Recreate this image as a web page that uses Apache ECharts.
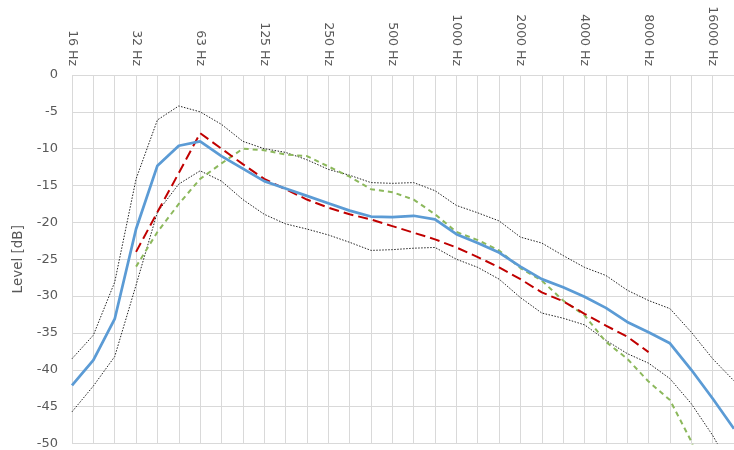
<!DOCTYPE html>
<html>
<head>
<meta charset="utf-8">
<script src="https://cdn.jsdelivr.net/npm/echarts@6/dist/echarts.min.js"></script>
<style>
html,body{margin:0;padding:0;background:#fff;}
#chart{width:734px;height:450px;}
</style>
</head>
<body>
<div id="chart"></div>
<script>
const categories = ['16 Hz','20 Hz','25 Hz','32 Hz','40 Hz','50 Hz','63 Hz','80 Hz','100 Hz','125 Hz','160 Hz','200 Hz','250 Hz','315 Hz','400 Hz','500 Hz','630 Hz','800 Hz','1000 Hz','1250 Hz','1600 Hz','2000 Hz','2500 Hz','3150 Hz','4000 Hz','5000 Hz','6300 Hz','8000 Hz','10000 Hz','12500 Hz','16000 Hz','20000 Hz'];

const meanLevel = [-42.1,-38.7,-33.1,-20.9,-12.3,-9.6,-9.0,-11.0,-12.7,-14.4,-15.4,-16.4,-17.4,-18.4,-19.2,-19.3,-19.1,-19.6,-21.6,-22.8,-24.1,-26.0,-27.7,-28.8,-30.1,-31.6,-33.5,-34.9,-36.4,-40.0,-43.9,-48.0];

const upperBound = [-38.5,-35.3,-28.1,-14.1,-6.1,-4.2,-5.0,-6.7,-9.0,-10.0,-10.5,-11.5,-12.8,-13.6,-14.6,-14.7,-14.6,-15.7,-17.7,-18.7,-19.8,-22.0,-22.8,-24.5,-26.1,-27.2,-29.2,-30.6,-31.7,-34.9,-38.5,-41.5];

const lowerBound = [-45.7,-42.2,-38.2,-28.5,-18.6,-14.8,-13.0,-14.4,-16.9,-18.9,-20.2,-20.9,-21.7,-22.7,-23.8,-23.7,-23.5,-23.4,-25.0,-26.1,-27.7,-30.2,-32.3,-33.0,-33.9,-36.0,-37.8,-39.1,-41.2,-44.6,-48.9,-54.0];

const redTarget = [null,null,null,-24.0,-18.6,-13.3,-7.9,-10.0,-12.1,-14.1,-15.5,-16.9,-18.0,-18.9,-19.6,-20.5,-21.4,-22.3,-23.4,-24.7,-26.1,-27.7,-29.5,-30.7,-32.4,-34.0,-35.5,-37.6,null,null,null,null];

const greenCurve = [null,null,null,-26.0,-21.3,-17.5,-14.1,-12.0,-10.0,-10.2,-10.8,-11.0,-12.4,-13.8,-15.5,-15.9,-16.9,-18.9,-21.3,-22.4,-23.8,-26.2,-27.9,-30.6,-32.6,-36.2,-38.5,-41.6,-44.1,-49.7,-58.0,null];

const yTicks = {min:-50, max:0, step:5};

const chart = echarts.init(document.getElementById('chart'), null, {renderer:'canvas'});
const labelColor = '#595959';
const gridColor = '#d9d9d9';
const fontFam = 'DejaVu Sans, Liberation Sans, sans-serif';

chart.setOption({
  animation:false,
  backgroundColor:'#ffffff',
  grid:{left:72, right:-9.7, top:75, bottom:5, containLabel:false},
  xAxis:{
    type:'category',
    position:'top',
    data:categories,
    boundaryGap:false,
    axisLine:{show:false},
    axisTick:{show:false},
    axisLabel:{interval:2, rotate:-90, margin:9, color:labelColor, fontSize:12.5, fontFamily:fontFam},
    splitLine:{show:true, interval:0, lineStyle:{color:gridColor, width:1}}
  },
  yAxis:{
    type:'value',
    min:yTicks.min, max:yTicks.max, interval:yTicks.step,
    name:'Level [dB]',
    nameLocation:'middle',
    nameGap:39,
    nameRotate:90,
    nameTextStyle:{color:labelColor, fontSize:13.5, fontFamily:fontFam},
    axisLine:{show:false},
    axisTick:{show:false},
    axisLabel:{margin:14, color:labelColor, fontSize:13, fontFamily:fontFam},
    splitLine:{show:true, lineStyle:{color:gridColor, width:1}}
  },
  series:[
    {type:'line', data:upperBound, showSymbol:false, symbol:'none', lineStyle:{color:'#222', width:1, type:[1.5,1.5]}, z:2},
    {type:'line', data:lowerBound, showSymbol:false, symbol:'none', lineStyle:{color:'#222', width:1, type:[1.5,1.5]}, z:2},
    {type:'line', data:greenCurve, showSymbol:false, symbol:'none', connectNulls:false, lineStyle:{color:'#8cb85c', width:2, type:[5,4]}, z:3},
    {type:'line', data:redTarget, showSymbol:false, symbol:'none', connectNulls:false, lineStyle:{color:'#c00000', width:2, type:[10,5]}, z:4},
    {type:'line', data:meanLevel, showSymbol:false, symbol:'none', lineStyle:{color:'#5b9bd5', width:2.75}, z:5}
  ]
});
</script>
</body>
</html>
